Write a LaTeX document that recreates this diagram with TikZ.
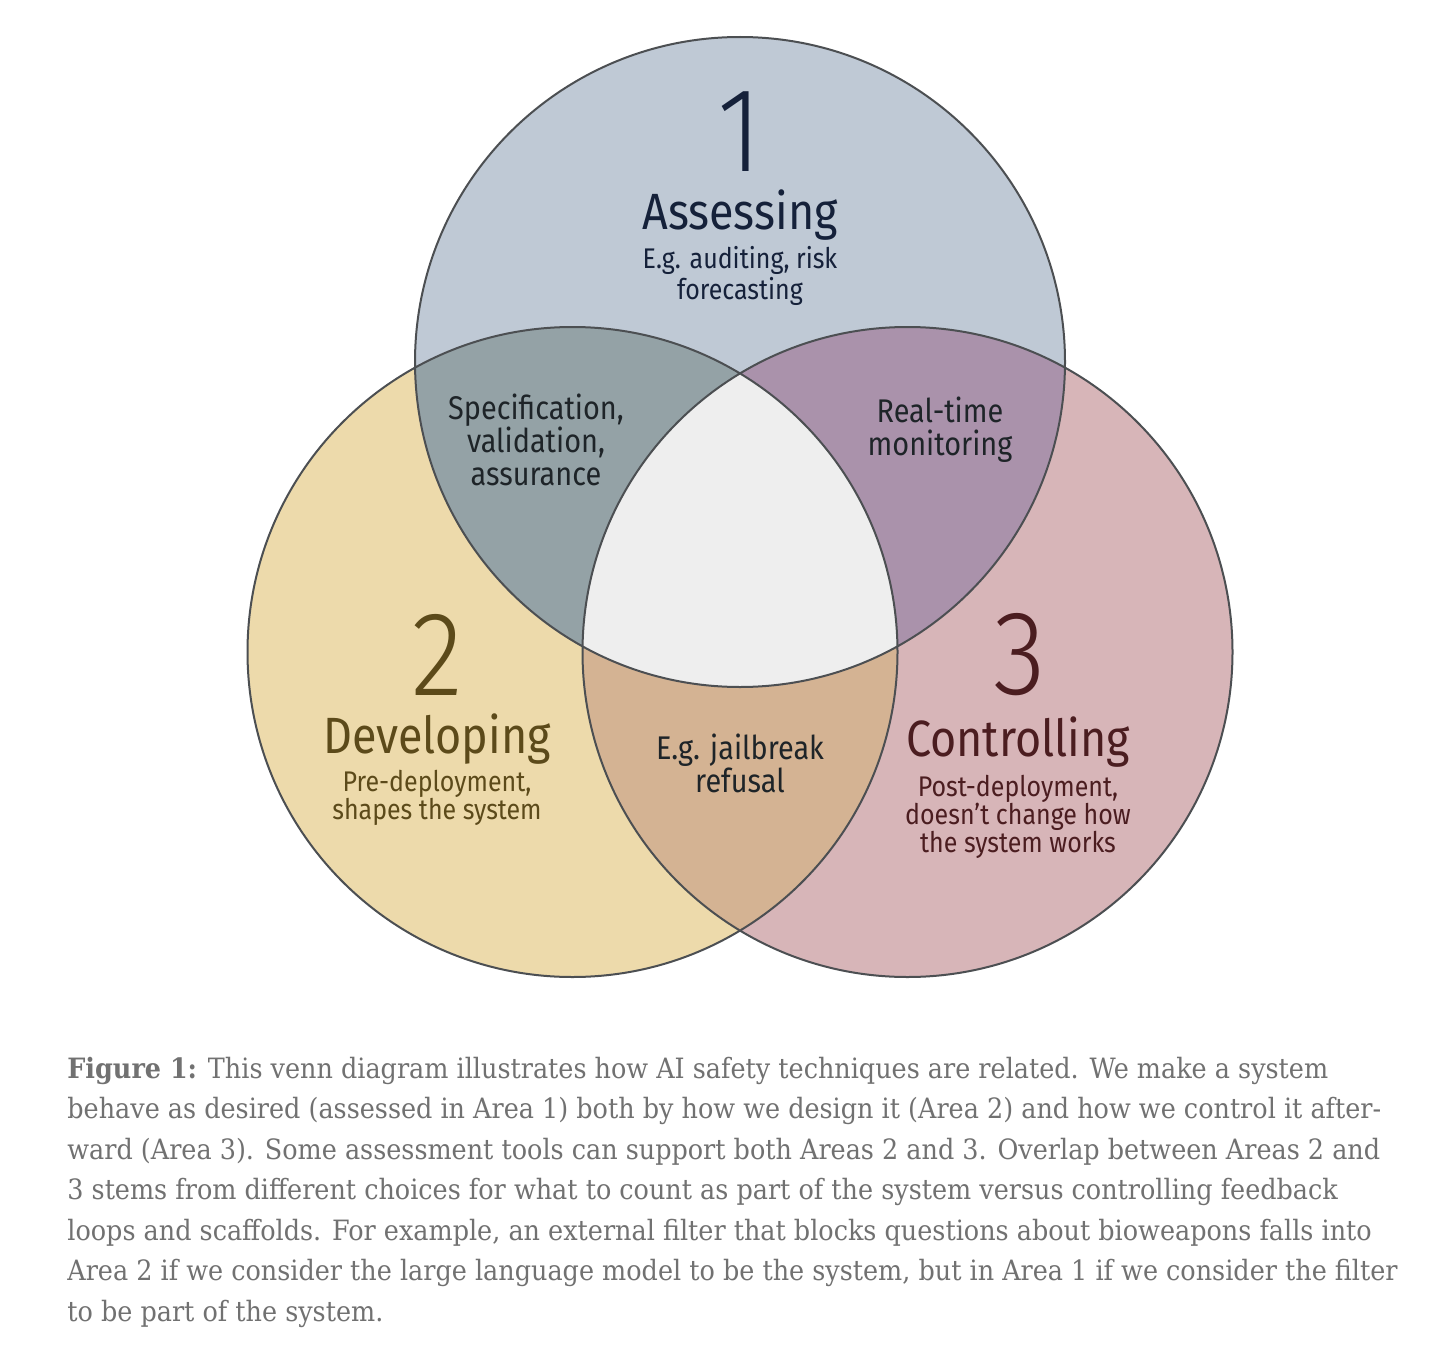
\documentclass[tikz,border=0pt]{standalone}
\usepackage{fontspec}
\setmainfont[FakeStretch=0.88]{Fira Sans}
\newfontfamily\numfont[FakeStretch=0.9]{Fira Sans Light}
\newfontfamily\capfont[FakeStretch=0.91]{DejaVu Serif}
\definecolor{cTop}{HTML}{BFC9D5}
\definecolor{cLeft}{HTML}{EDDAAB}
\definecolor{cRight}{HTML}{D7B5B8}
\definecolor{cTL}{HTML}{94A2A6}
\definecolor{cTR}{HTML}{AA92AB}
\definecolor{cBot}{HTML}{D4B393}
\definecolor{cMid}{HTML}{EEEEEE}
\definecolor{cLine}{HTML}{4C4F52}
\definecolor{tNavy}{HTML}{15213A}
\definecolor{tBrown}{HTML}{5C4A1A}
\definecolor{tMaroon}{HTML}{4B1D20}
\definecolor{tDark}{HTML}{1E2428}
\definecolor{tCap}{HTML}{717171}
\tikzset{
  num/.style={font=\numfont\fontsize{60}{60}\selectfont, inner sep=0pt},
  ttl/.style={font=\fontsize{25.5}{26}\selectfont, inner sep=0pt},
  sub/.style={font=\fontsize{14.2}{14}\selectfont, inner sep=0pt, align=center},
  ovl/.style={font=\fontsize{16.4}{16.6}\selectfont, inner sep=0pt, align=center, text=tDark},
  capline/.style={font=\capfont\fontsize{14}{15}\selectfont, text=tCap, inner sep=0pt, anchor=base west},
}
\begin{document}
\begin{tikzpicture}[x=0.5pt,y=-0.5pt]
\useasboundingbox (0,0) rectangle (1456,1354);
\fill[white] (0,0) rectangle (1456,1354);
\def\R{162.5pt}
\coordinate (A) at (740,362);
\coordinate (B) at (572.5,652);
\coordinate (C) at (907.5,652);
% base fills
\fill[cTop] (A) circle[radius=\R];
\fill[cLeft] (B) circle[radius=\R];
\fill[cRight] (C) circle[radius=\R];
% pairwise overlaps
\begin{scope}\clip (A) circle[radius=\R]; \fill[cTL] (B) circle[radius=\R]; \end{scope}
\begin{scope}\clip (A) circle[radius=\R]; \fill[cTR] (C) circle[radius=\R]; \end{scope}
\begin{scope}\clip (B) circle[radius=\R]; \fill[cBot] (C) circle[radius=\R]; \end{scope}
\begin{scope}\clip (A) circle[radius=\R]; \clip (B) circle[radius=\R]; \fill[cMid] (C) circle[radius=\R]; \end{scope}
% outlines
\draw[cLine, line width=1pt] (A) circle[radius=\R] (B) circle[radius=\R] (C) circle[radius=\R];
% area 1
\node[num, text=tNavy] (n1) at (740,132) {1};
\node[ttl, text=tNavy] (t1) at (740,215) {Assessing};
\node[sub, text=tNavy] (s1) at (740,276) {E.g. auditing, risk\\forecasting};
% area 2
\node[num, text=tBrown] (n2) at (437,655) {2};
\node[ttl, text=tBrown] (t2) at (437,739) {Developing};
\node[sub, text=tBrown] (s2) at (437,798) {Pre-deployment,\\shapes the system};
% area 3
\node[num, text=tMaroon] (n3) at (1020,655) {3};
\node[ttl, text=tMaroon] (t3) at (1018,742) {Controlling};
\node[sub, text=tMaroon] (s3) at (1018,817) {Post-deployment,\\doesn’t change how\\the system works};
% overlaps
\node[ovl] (o12) at (536,440) {Specification,\\validation,\\assurance};
\node[ovl] (o13) at (940,430) {Real-time\\monitoring};
\node[ovl] (o23) at (740,763) {E.g. jailbreak\\refusal};
% caption
\node[capline] (c1) at (67,1078) {\textbf{Figure 1:} This venn diagram illustrates how AI safety techniques are related. We make a system};
\node[capline] (c2) at (67,1118.5) {behave as desired (assessed in Area 1) both by how we design it (Area 2) and how we control it after-};
\node[capline] (c3) at (67,1159) {ward (Area 3). Some assessment tools can support both Areas 2 and 3. Overlap between Areas 2 and};
\node[capline] (c4) at (67,1199.5) {3 stems from different choices for what to count as part of the system versus controlling feedback};
\node[capline] (c5) at (67,1240) {loops and scaffolds. For example, an external filter that blocks questions about bioweapons falls into};
\node[capline] (c6) at (67,1280.5) {Area 2 if we consider the large language model to be the system, but in Area 1 if we consider the filter};
\node[capline] (c7) at (67,1321) {to be part of the system.};
\end{tikzpicture}
\end{document}
